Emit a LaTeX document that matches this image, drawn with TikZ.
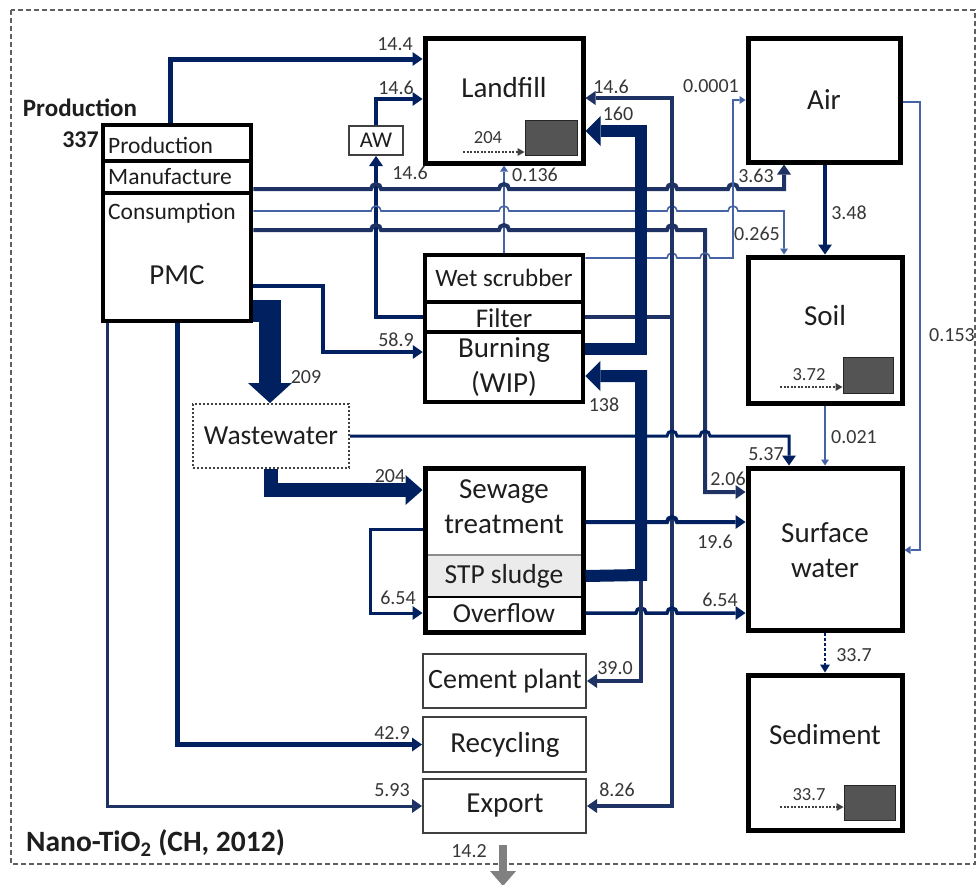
\documentclass[tikz,border=0pt]{standalone}
\usepackage{fontspec}
\setmainfont{Carlito}
\usetikzlibrary{arrows.meta,fit}

\definecolor{navy}{RGB}{0,32,96}
\definecolor{navymid}{RGB}{30,50,100}
\definecolor{navylt}{RGB}{70,100,165}
\definecolor{ink}{RGB}{30,30,30}
\definecolor{numc}{RGB}{55,55,55}
\definecolor{sinkc}{RGB}{84,84,84}
\definecolor{framec}{RGB}{95,95,95}

% a small bridge where a horizontal flow jumps over a vertical one
\newcommand\hopat[2]{-- (#1-5,-#2) arc[start angle=180,end angle=0,radius=5]}

\tikzset{
  bigbox/.style={draw=black, line width=5pt, fill=white, inner sep=0pt},
  rowbox/.style={draw=black, line width=4.5pt, fill=white, inner sep=0pt},
  plainbox/.style={draw=black!75, line width=2pt, fill=white, inner sep=0pt},
  sinkbox/.style={draw=black!85, line width=1pt, fill=sinkc, inner sep=0pt},
  boxtxt/.style={text=ink, inner sep=0pt, align=center, font=\fontsize{#1}{35}\selectfont},
  num/.style={text=numc, inner sep=0pt, font=\fontsize{20}{22}\selectfont},
  numsm/.style={text=numc, inner sep=0pt, font=\fontsize{18.5}{20}\selectfont},
  fl/.style={draw=navy, line width=#1},
  fl/.default=4pt,
  thinfl/.style={draw=navylt, line width=1.6pt},
  tipS/.style={-{Triangle[length=6pt,width=8pt,line width=0pt]}},
  tipM/.style={-{Triangle[length=10pt,width=14pt,line width=0pt]}},
  tipL/.style={-{Triangle[length=15pt,width=30pt,line width=0pt]}},
  sinkarrow/.style={draw=black!75, line width=1.6pt, dash pattern=on 2pt off 1.5pt,
    -{Triangle[length=7pt,width=8pt,line width=0pt]}},
}

\begin{document}
\begin{tikzpicture}[x=1pt,y=1pt]
\useasboundingbox (0,0) rectangle (979,-884);
\fill[white] (0,0) rectangle (979,-884);

% system boundary
\draw[framec, line width=2.5pt, dash pattern=on 5pt off 3pt] (11,-10) rectangle (975,-864);

% ---------- compartments ----------
\node[bigbox, fit={(425,-38)(583,-163)}] (landfill) {};
\node[sinkbox, fit={(525,-120)(577,-155)}] (lfsink) {};
\node[bigbox, fit={(748,-38)(900,-162)}] (air) {};
\node[bigbox, fit={(748,-257)(902,-403)}] (soil) {};
\node[sinkbox, fit={(843,-357)(893,-393)}] (soilsink) {};
\node[bigbox, fit={(748,-468)(902,-630)}] (sw) {};
\node[bigbox, fit={(748,-675)(902,-830)}] (sediment) {};
\node[sinkbox, fit={(844,-785)(895,-820)}] (sedsink) {};

% product life cycle
\node[rowbox, fit={(103,-125)(251,-161)}] (pmcA) {};
\node[rowbox, fit={(103,-161)(251,-193)}] (pmcB) {};
\node[rowbox, fit={(103,-193)(251,-321)}] (pmcC) {};

% incineration plant
\node[rowbox, fit={(425,-255)(583,-302)}] (wetscrub) {};
\node[rowbox, fit={(425,-302)(583,-332)}] (filter) {};
\node[rowbox, fit={(425,-332)(583,-402)}] (burning) {};

% sewage treatment plant
\node[fill=white, inner sep=0pt, outer sep=2.5pt, fit={(425,-468)(583,-555)}] (sewage) {};
\node[draw=black!45, line width=1.2pt, fill=black!8, inner sep=0pt, outer sep=2.5pt, fit={(425,-555)(583,-597)}] (stp) {};
\node[draw=black, line width=1.6pt, fill=white, inner sep=0pt, outer sep=2.5pt, fit={(425,-597)(583,-632)}] (overflow) {};
\node[draw=black, line width=5pt, inner sep=0pt, fit={(425,-468)(583,-632)}] (stpframe) {};

\node[plainbox, fit={(423,-654)(586,-708)}] (cement) {};
\node[plainbox, fit={(423,-717)(586,-772)}] (recycling) {};
\node[plainbox, fit={(423,-779)(586,-833)}] (export) {};
\node[plainbox, fit={(349,-126)(403,-155)}] (aw) {};
\node[draw=black!75, line width=2pt, dash pattern=on 2pt off 2pt, fill=white, inner sep=0pt,
      fit={(193,-404)(349,-468)}] (ww) {};

% ---------- flows ----------
\draw[fl=5pt, tipM] (pmcA.north -| 170,0) |- (landfill.west |- 0,-59);
\draw[fl=4.5pt, tipM] (aw.north) |- (landfill.west |- 0,-99);
\draw[fl=4.5pt, tipM] (filter.west) -| (aw.south);
\draw[thinfl, tipS] (wetscrub.north) -- (landfill.south);

\draw[fl=4pt, draw=navymid, tipM] (pmcB.east |- 0,-189) \hopat{376}{189} \hopat{504}{189}
   \hopat{672}{189} \hopat{733}{189} -- (784,-189) -- (air.south -| 784,0);
\draw[thinfl, tipS] (pmcC.east |- 0,-211) \hopat{376}{211} \hopat{504}{211}
   \hopat{672}{211} \hopat{733}{211} -- (784,-211) -- (soil.north -| 784,0);
\draw[fl=4pt, draw=navymid, tipM] (pmcC.east |- 0,-230) \hopat{376}{230} \hopat{504}{230}
   \hopat{672}{230} -- (705,-230) -- (705,-492) -- (sw.west |- 0,-492);
\draw[thinfl, tipS] (wetscrub.east |- 0,-258) \hopat{672}{258} \hopat{705}{258}
   -- (733,-258) |- (air.west |- 0,-100);

\coordinate (jf) at (672,-317);
\draw[fl=4pt, draw=navymid] (filter.east) -- (jf);
\draw[fl=4pt, draw=navymid, {Triangle[length=10pt,width=14pt,line width=0pt]}-{Triangle[length=10pt,width=14pt,line width=0pt]}]
   (landfill.east |- 0,-98) -| (jf) |- (export.east);

\draw[fl=3pt, tipM] (ww.east) \hopat{672}{436} \hopat{705}{436} -- (789,-436) -- (sw.north -| 789,0);
\draw[fl=4pt, tipM] (sewage.east |- 0,-522) \hopat{672}{522} -- (sw.west |- 0,-522);
\draw[fl=3.5pt, tipM] (overflow.east |- 0,-613) \hopat{641}{613} \hopat{672}{613} -- (sw.west |- 0,-613);
\draw[fl=3pt, tipM] (sewage.west |- 0,-529) -- (370,-529) |- (overflow.west |- 0,-613);

\draw[fl=4pt, tipM] (pmcC.east |- 0,-286) -- (323,-286) |- (burning.west |- 0,-352);
\draw[fl=5pt, tipM] (pmcC.south -| 177,0) |- (recycling.west);
\draw[fl=3pt, draw=navymid, tipM] (pmcC.south -| 107,0) |- (export.west);

\draw[fl=4pt, tipM] (air.south -| 825,0) -- (soil.north -| 825,0);
\draw[thinfl, tipS] (air.east |- 0,-102) -- (920,-102) |- (sw.east |- 0,-550);
\draw[thinfl, tipS] (soil.south) -- (sw.north);
\draw[fl=2pt, dash pattern=on 3pt off 2pt, -{Triangle[length=8pt,width=10pt,line width=0pt]}] (sw.south) -- (sediment.north);

% heavy sludge and ash flows
\coordinate (js) at (641,-575);
\draw[fl=4pt, draw=navymid, tipM] (js) |- (cement.east);
\draw[fl=12pt, tipL] (burning.east |- 0,-349) -- (641,-349) |- (landfill.east |- 0,-131);
\draw[fl=12pt, tipL] (stp.east) -- (js) |- (burning.east |- 0,-376);
\draw[fl=14pt, -{Triangle[length=17pt,width=30pt,line width=0pt]}] (ww.south) |- (sewage.west |- 0,-490);
\draw[fl=22pt, -{Triangle[length=20pt,width=44pt,line width=0pt]}] (pmcC.east |- 0,-311) -| (ww.north -| 270,0);

% export out of the system
\coordinate (expout) at (503,-845);
\coordinate (expend) at (503,-886);
\draw[draw=black!50, line width=8pt, -{Triangle[length=15pt,width=26pt,line width=0pt]}] (expout) -- (expend);

% sinks inside compartments
\coordinate (lfin) at (463,-152);
\coordinate (soilin) at (780,-387);
\coordinate (sedin) at (780,-807);
\draw[sinkarrow] (lfin) -- (lfsink.west |- lfin);
\draw[sinkarrow] (soilin) -- (soilsink.west |- soilin);
\draw[sinkarrow] (sedin) -- (sedsink.west |- sedin);

% ---------- box texts ----------
\node[boxtxt=29] (t-landfill) at (504,-88) {Landfill};
\node[boxtxt=29] (t-air) at (824,-100) {Air};
\node[boxtxt=29] (t-soil) at (825,-316) {Soil};
\node[boxtxt=29] (t-sw) at (825,-550) {Surface\\water};
\node[boxtxt=29] (t-sed) at (825,-735) {Sediment};
\node[boxtxt=23.5, anchor=west] (t-pmcA) at (108,-145) {Production};
\node[boxtxt=23.5, anchor=west] (t-pmcB) at (108,-177) {Manufacture};
\node[boxtxt=23.5, anchor=west] (t-pmcC) at (108,-213) {Consumption};
\node[boxtxt=29] (t-pmc) at (177,-275) {PMC};
\node[boxtxt=22.5] (t-aw) at (376,-140) {AW};
\node[boxtxt=25] (t-ws) at (504,-278) {Wet scrubber};
\node[boxtxt=27] (t-filter) at (504,-318) {Filter};
\node[boxtxt=29] (t-burn) at (504,-367) {Burning\\(WIP)};
\node[boxtxt=29] (t-sew) at (504,-507) {Sewage\\treatment};
\node[boxtxt=27.5] (t-stp) at (504,-576) {STP sludge};
\node[boxtxt=27.5] (t-over) at (504,-613) {Overflow};
\node[boxtxt=28] (t-cement) at (505,-681) {Cement plant};
\node[boxtxt=29] (t-recyc) at (505,-745) {Recycling};
\node[boxtxt=29] (t-export) at (505,-806) {Export};
\node[boxtxt=27.5] (t-ww) at (271,-436) {Wastewater};

\node[text=ink, inner sep=0pt, font=\bfseries\fontsize{25}{28}\selectfont] (t-prod) at (80,-108) {Production};
\node[text=ink, inner sep=0pt, anchor=east, font=\bfseries\fontsize{24}{28}\selectfont] (t-337) at (99,-140) {337};
\node[text=ink, inner sep=0pt, anchor=west, font=\bfseries\fontsize{29.5}{31}\selectfont] (t-title) at (26,-843) {Nano-TiO\textsubscript{2} (CH, 2012)};

% ---------- flow values ----------
\node[num] (n144) at (395,-44) {14.4};
\node[num] (n146a) at (396,-88) {14.6};
\node[num] (n146b) at (410,-173) {14.6};
\node[num] (n0136) at (535,-175) {0.136};
\node[num] (n146c) at (611,-87) {14.6};
\node[num] (n160) at (618,-114) {160};
\node[num] (n00001) at (711,-86) {0.0001};
\node[num] (n363) at (756,-176) {3.63};
\node[num] (n0265) at (757,-234) {0.265};
\node[num] (n348) at (849,-213) {3.48};
\node[num] (n0153) at (952,-335) {0.153};
\node[numsm] (n372) at (809,-375) {3.72};
\node[num] (n0021) at (854,-437) {0.021};
\node[num] (n537) at (766,-454) {5.37};
\node[num] (n206) at (728,-479) {2.06};
\node[num] (n196) at (715,-542) {19.6};
\node[num] (n654b) at (720,-600) {6.54};
\node[num] (n654a) at (398,-598) {6.54};
\node[num] (n138) at (604,-405) {138};
\node[num] (n204a) at (390,-476) {204};
\node[num] (n209) at (306,-377) {209};
\node[num] (n589) at (396,-340) {58.9};
\node[num] (n390) at (615,-668) {39.0};
\node[num] (n429) at (392,-733) {42.9};
\node[num] (n593) at (392,-790) {5.93};
\node[num] (n826) at (617,-790) {8.26};
\node[num] (n142) at (469,-851) {14.2};
\node[num] (n337a) at (854,-655) {33.7};
\node[numsm] (n337b) at (809,-795) {33.7};
\node[numsm] (n204b) at (488,-138) {204};
\end{tikzpicture}
\end{document}
